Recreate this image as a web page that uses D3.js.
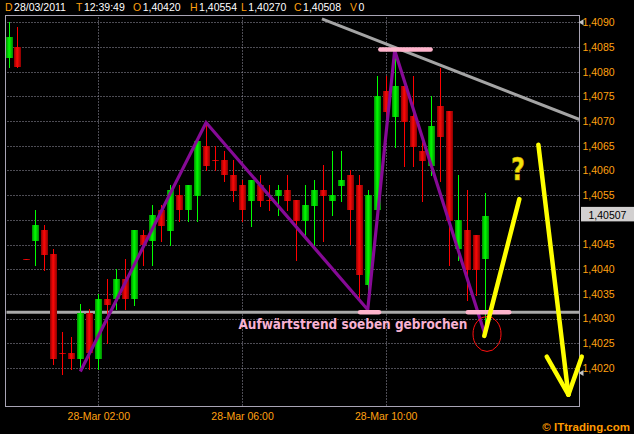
<!DOCTYPE html>
<html><head><meta charset="utf-8">
<script src="https://cdn.jsdelivr.net/npm/d3@7"></script>
<style>html,body{margin:0;padding:0;background:#000;overflow:hidden}svg{display:block}</style>
</head><body><svg id="c" width="634" height="434"></svg>
<script>
// ---------- data ----------
const times = ["23:30","23:45","00:00","00:15","00:30","00:45","01:00","01:15","01:30","01:45",
  "02:00","02:15","02:30","02:45","03:00","03:15","03:30","03:45","04:00","04:15",
  "04:30","04:45","05:00","05:15","05:30","05:45","06:00","06:15","06:30","06:45",
  "07:00","07:15","07:30","07:45","08:00","08:15","08:30","08:45","09:00","09:15",
  "09:30","09:45","10:00","10:15","10:30","10:45","11:00","11:15","11:30","11:45",
  "12:00","12:15","12:30","12:45"];
const opens  = [1.40828,1.40849,1.40420,1.40458,1.40480,1.40431,1.40230,1.40230,1.40219,1.40311,
  1.40219,1.40339,1.40339,1.40380,1.40339,1.40470,1.40458,1.40520,1.40478,1.40550,
  1.40519,1.40549,1.40650,1.40621,1.40621,1.40591,1.40571,1.40539,1.40571,1.40540,
  1.40549,1.40561,1.40540,1.40498,1.40529,1.40561,1.40539,1.40569,1.40591,1.40571,
  1.40368,1.40519,1.40761,1.40709,1.40771,1.40710,1.40640,1.40610,1.40731,1.40720,
  1.40441,1.40480,1.40470,1.40420];
const highs  = [1.40901,1.40891,1.40420,1.40520,1.40490,1.40441,1.40272,1.40262,1.40330,1.40319,
  1.40350,1.40380,1.40400,1.40420,1.40480,1.40480,1.40530,1.40530,1.40571,1.40571,
  1.40571,1.40660,1.40697,1.40650,1.40640,1.40621,1.40581,1.40581,1.40591,1.40571,
  1.40571,1.40591,1.40540,1.40571,1.40581,1.40611,1.40640,1.40640,1.40601,1.40591,
  1.40561,1.40791,1.40791,1.40844,1.40771,1.40791,1.40658,1.40751,1.40808,1.40720,
  1.40591,1.40561,1.40470,1.40554];
const lows   = [1.40810,1.40810,1.40420,1.40409,1.40399,1.40208,1.40188,1.40198,1.40198,1.40198,
  1.40198,1.40250,1.40319,1.40319,1.40328,1.40409,1.40409,1.40458,1.40449,1.40498,
  1.40498,1.40498,1.40600,1.40600,1.40579,1.40539,1.40498,1.40488,1.40529,1.40519,
  1.40509,1.40519,1.40419,1.40470,1.40449,1.40458,1.40509,1.40539,1.40451,1.40341,
  1.40316,1.40515,1.40699,1.40648,1.40609,1.40609,1.40539,1.40590,1.40579,1.40409,
  1.40419,1.40338,1.40348,1.40270];
const closes = [1.40871,1.40810,1.40420,1.40490,1.40429,1.40219,1.40230,1.40219,1.40311,1.40230,
  1.40339,1.40328,1.40380,1.40339,1.40480,1.40449,1.40510,1.40488,1.40561,1.40519,
  1.40571,1.40660,1.40610,1.40621,1.40590,1.40559,1.40519,1.40581,1.40539,1.40540,
  1.40561,1.40539,1.40498,1.40530,1.40561,1.40549,1.40550,1.40581,1.40519,1.40389,
  1.40550,1.40751,1.40719,1.40771,1.40699,1.40648,1.40620,1.40690,1.40668,1.40498,
  1.40500,1.40399,1.40399,1.40508];
const priceTicks = [1.4020,1.4025,1.4030,1.4035,1.4040,1.4045,1.4050,1.4055,1.4060,1.4065,1.4070,1.4075,1.4080,1.4085,1.4090];
const timeTicks = ["02:00","06:00","10:00"];
const dayLabel = "28-Mar";
const headerKeys = ["D","T","O","H","L","C","V"];
const headerVals = ["28/03/2011","12:39:49","1,40420","1,40554","1,40270","1,40508","0"];
const lastPrice = 1.40507;
// annotations, in (candle index, price)
const zigzag = [[8,1.40193],[22,1.40697],[40,1.40318],[43,1.40843],[53,1.40271]];
const resistance = [[34.9,1.40907],[63.6,1.40703]];
const supportLevel = 1.40313;
const pinkBars = [[41.4,47.0,1.40845],[39.15,41.25,1.40313],[51.15,55.75,1.40313]];
const yellowUp = [[52.98,1.40265],[56.88,1.40542]];
const yellowArrow = [[59.0,1.40652],[62.34,1.40146]];
const arrowWings = [[[59.93,1.40223],[62.34,1.40146]],[[63.83,1.40223],[62.34,1.40146]]];
const circleAt = [53.28,1.40269];
const questionAt = [56.74,1.40581];
const noteText = "Aufwärtstrend soeben gebrochen";
const noteAt = [25.6,1.40279];
const axisMarks = [1.4090,1.4019];

// ---------- layout ----------
const W=634,H=434;
const L=5.5,R=579.5,T=15.5,B=406.5;
const ORANGE="#ffa010";
const svg=d3.select("#c");
svg.append("rect").attr("width",W).attr("height",H).attr("fill","#000");

const x=d3.scaleLinear().domain([0,53]).range([8.5,484.5]);
const y=d3.scaleLinear().domain([1.4020,1.4090]).range([368,22.3]);
const cx=i=>Math.round(x(i))+0.5;
const cy=p=>Math.round(y(p))+0.5;

const defs=svg.append("defs");
function grad(id,edge,mid){
  const g=defs.append("linearGradient").attr("id",id).attr("x1",0).attr("x2",1).attr("y1",0).attr("y2",0);
  g.append("stop").attr("offset","0%").attr("stop-color",edge);
  g.append("stop").attr("offset","45%").attr("stop-color",mid);
  g.append("stop").attr("offset","100%").attr("stop-color",edge);
}
grad("gUp","#008a00","#00ff00");
grad("gDn","#8a0000","#ff0808");

// grid
const tickIdx=timeTicks.map(t=>times.indexOf(t));
const grid=svg.append("g").attr("stroke","#9a98a8").attr("stroke-width",1).attr("stroke-dasharray","1,2");
grid.selectAll("line.h").data(priceTicks).join("line").attr("class","h")
  .attr("x1",L+2).attr("x2",R).attr("y1",d=>cy(d)).attr("y2",d=>cy(d));
grid.selectAll("line.v").data(tickIdx).join("line").attr("class","v")
  .attr("x1",d=>cx(d)).attr("x2",d=>cx(d)).attr("y1",T+2).attr("y2",B);

// frame
svg.append("rect").attr("x",L).attr("y",T).attr("width",R-L).attr("height",B-T)
  .attr("fill","none").attr("stroke","#a8a4b4").attr("stroke-width",1);

// support line
defs.append("clipPath").attr("id","clip").append("rect")
  .attr("x",L).attr("y",T).attr("width",R-L).attr("height",B-T);
svg.append("line").attr("x1",L+1).attr("x2",R).attr("y1",y(supportLevel)).attr("y2",y(supportLevel))
  .attr("stroke","#a9a9a9").attr("stroke-width",3);

// candles
const data=times.map((t,i)=>({i,t,o:opens[i],h:highs[i],l:lows[i],c:closes[i]}));
const cg=svg.append("g");
const cand=cg.selectAll("g").data(data).join("g");
cand.append("line")
  .attr("x1",d=>cx(d.i)).attr("x2",d=>cx(d.i))
  .attr("y1",d=>Math.round(y(d.h))).attr("y2",d=>Math.round(y(d.l))+1)
  .attr("stroke",d=>d.c>d.o?"#00ff00":"#ff0000").attr("stroke-width",1);
cand.append("rect")
  .attr("x",d=>Math.round(x(d.i))-3).attr("width",7)
  .attr("y",d=>Math.round(y(Math.max(d.o,d.c))))
  .attr("height",d=>Math.max(1,Math.round(y(Math.min(d.o,d.c)))-Math.round(y(Math.max(d.o,d.c)))))
  .attr("fill",d=>d.c>d.o?"url(#gUp)":"url(#gDn)");

// resistance line (gray)
const line=d3.line().x(d=>x(d[0])).y(d=>y(d[1]));
svg.append("path").attr("d",line(resistance)).attr("stroke","#a4a4a4").attr("stroke-width",3)
  .attr("fill","none").attr("clip-path","url(#clip)");

// zigzag
svg.append("path").attr("d",line(zigzag)).attr("stroke","#860a96").attr("stroke-width",3.2)
  .attr("fill","none").attr("stroke-linejoin","miter");

// pink bars
svg.selectAll("line.pk").data(pinkBars).join("line").attr("class","pk")
  .attr("x1",d=>x(d[0])).attr("x2",d=>x(d[1])).attr("y1",d=>y(d[2])).attr("y2",d=>y(d[2]))
  .attr("stroke","#ffb4cc").attr("stroke-width",4.5).attr("stroke-linecap","round");

// note text
svg.append("text").attr("x",x(noteAt[0])).attr("y",y(noteAt[1]))
  .attr("font-family","'DejaVu Sans',Verdana,sans-serif").attr("font-weight","bold").attr("font-size",14)
  .attr("textLength",229).attr("lengthAdjust","spacingAndGlyphs")
  .attr("fill","#f8b2d2").text(noteText);

// red circle
svg.append("ellipse").attr("cx",x(circleAt[0])).attr("cy",y(circleAt[1])).attr("rx",14).attr("ry",17.5)
  .attr("fill","none").attr("stroke","#ff1010").attr("stroke-width",1);

// yellow marks
const yl=svg.append("g").attr("stroke","#ffff00").attr("stroke-width",4.5).attr("stroke-linecap","round").attr("fill","none");
yl.append("path").attr("d",line(yellowUp));
yl.append("path").attr("d",line(yellowArrow));
arrowWings.forEach(w=>yl.append("path").attr("d",line(w)));
svg.append("text").attr("x",x(questionAt[0])).attr("y",y(questionAt[1]))
  .attr("text-anchor","middle").attr("font-family","'DejaVu Sans',sans-serif").attr("font-weight","bold")
  .attr("font-size",32).attr("textLength",14).attr("lengthAdjust","spacingAndGlyphs")
  .attr("fill","#f2e40a").attr("stroke","#c8a000").attr("stroke-width",0.6).text("?");

// y axis labels (the one hidden behind the last-price box is left out)
const fmt=d3.format(".4f");
const fmt5=d3.format(".5f");
const lp=y(lastPrice);
const visibleTicks=priceTicks.filter(p=>Math.abs(y(p)-lp)>10);
const yAxis=d3.axisRight(y).tickValues(visibleTicks).tickSize(0).tickPadding(3)
  .tickFormat(d=>fmt(d).replace(".",","));
const ya=svg.append("g").attr("transform",`translate(${R},0)`).call(yAxis);
ya.select(".domain").remove();
ya.selectAll("text").attr("fill",ORANGE).attr("font-size",10.5).attr("font-family","'Liberation Sans',Arial,sans-serif");

// x axis labels
const xAxis=d3.axisBottom(x).tickValues(tickIdx).tickSize(0).tickPadding(6)
  .tickFormat(i=>dayLabel+" "+times[i]);
const xa=svg.append("g").attr("transform",`translate(0,${B})`).call(xAxis);
xa.select(".domain").remove();
xa.selectAll("text").attr("fill",ORANGE).attr("font-size",10.5).attr("font-family","'Liberation Sans',Arial,sans-serif");

// axis markers
svg.selectAll("path.am").data(axisMarks).join("path").attr("class","am")
  .attr("d",d=>{const yy=y(d);return `M${R-1},${yy} L${R+4},${yy-3} L${R+4},${yy+3} Z`;})
  .attr("fill","#c4c4c4");

// last price box
svg.append("rect").attr("x",R+1.5).attr("y",lp-9.5).attr("width",W-R-1.5).attr("height",14.5).attr("fill","#d2d0d0");
svg.append("text").attr("x",R+9).attr("y",lp+2.5).attr("font-size",10.5)
  .attr("font-family","'Liberation Sans',Arial,sans-serif").attr("fill","#000").text(fmt5(lastPrice).replace(".",","));

// header
const hx=[5,76,133,190,241,294,350];
const hg=svg.append("g").attr("font-family","'Liberation Sans',Arial,sans-serif").attr("font-size",10.5);
headerKeys.forEach((k,i)=>{
  const t=hg.append("text").attr("x",hx[i]).attr("y",10.5).attr("fill",ORANGE).text(k);
  const w=t.node().getComputedTextLength();
  hg.append("text").attr("x",hx[i]+w+1.5).attr("y",10.5).attr("fill","#fff").text(headerVals[i]);
});

// copyright
svg.append("text").attr("x",630).attr("y",431).attr("text-anchor","end")
  .attr("font-family","'Liberation Sans',Arial,sans-serif").attr("font-weight","bold").attr("font-size",11.5)
  .attr("fill","#ff9a00").text("© ITtrading.com");
</script></body></html>
